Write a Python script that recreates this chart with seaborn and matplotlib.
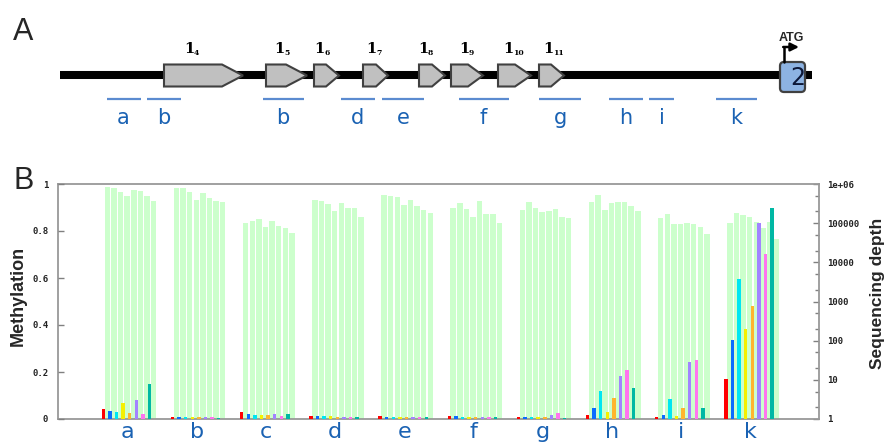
import numpy as np
import pandas as pd
import matplotlib
matplotlib.use('Agg')
import matplotlib.pyplot as plt
from matplotlib.patches import Polygon, FancyBboxPatch
from matplotlib.ticker import FixedLocator, FixedFormatter, LogLocator, NullFormatter
import seaborn as sns

# ---------------- data ----------------
groups = ['a', 'b', 'c', 'd', 'e', 'f', 'g', 'h', 'i', 'k']
samples = ['s1', 's2', 's3', 's4', 's5', 's6', 's7', 's8']
sample_colors = ['#ff0000', '#0a6cff', '#00e6f2', '#f5f000', '#ffb52e',
                 '#a284ff', '#ff74ee', '#00b8a4']

depth_a = [850000, 780000, 610000, 500000, 690000, 650000, 490000, 370000]
depth_b = [780000, 800000, 610000, 390000, 580000, 430000, 370000, 350000]
depth_c = [99000, 115000, 127000, 81000, 113000, 86000, 74000, 57000]
depth_d = [380000, 370000, 300000, 210000, 330000, 240000, 250000, 143000]
depth_e = [520000, 500000, 470000, 295000, 390000, 280000, 216000, 178000]
depth_f = [243000, 327000, 229000, 141000, 367000, 171000, 171000, 102000]
depth_g = [216000, 340000, 243000, 192000, 207000, 225000, 146000, 133000]
depth_h = [340000, 520000, 216000, 330000, 340000, 340000, 274000, 207000]
depth_i = [133000, 168000, 93000, 95000, 99000, 93000, 81000, 54000]
depth_k = [99000, 178000, 158000, 146000, 109000, 75000, 107000, 40000]

meth_a = [0.042, 0.036, 0.028, 0.067, 0.025, 0.079, 0.022, 0.150]
meth_b = [0.009, 0.007, 0.007, 0.007, 0.007, 0.007, 0.008, 0.005]
meth_c = [0.030, 0.020, 0.017, 0.017, 0.017, 0.020, 0.013, 0.020]
meth_d = [0.014, 0.014, 0.012, 0.012, 0.010, 0.010, 0.009, 0.008]
meth_e = [0.011, 0.010, 0.010, 0.010, 0.010, 0.010, 0.010, 0.008]
meth_f = [0.014, 0.014, 0.010, 0.010, 0.010, 0.010, 0.010, 0.010]
meth_g = [0.008, 0.007, 0.010, 0.007, 0.009, 0.018, 0.027, 0.005]
meth_h = [0.018, 0.047, 0.119, 0.028, 0.091, 0.182, 0.210, 0.132]
meth_i = [0.010, 0.016, 0.084, 0.011, 0.048, 0.241, 0.250, 0.048]
meth_k = [0.170, 0.338, 0.594, 0.385, 0.480, 0.835, 0.704, 0.899]

depth_lists = [depth_a, depth_b, depth_c, depth_d, depth_e,
               depth_f, depth_g, depth_h, depth_i, depth_k]
meth_lists = [meth_a, meth_b, meth_c, meth_d, meth_e,
              meth_f, meth_g, meth_h, meth_i, meth_k]

depth_ticks = [1, 10, 100, 1000, 10000, 100000, 1000000]
depth_ticklabels = ['1', '10', '100', '1000', '10000', '100000', '1e+06']
meth_ticks = [0, 0.2, 0.4, 0.6, 0.8, 1.0]
meth_ticklabels = ['0', '0.2', '0.4', '0.6', '0.8', '1']

# gene diagram (panel A), positions along the locus
exon_names = ['4', '5', '6', '7', '8', '9', '10', '11']
exon_start = [164, 266, 314, 363, 419, 451, 498, 539]
exon_end = [243, 307, 339, 388, 445, 483, 531, 564]
exon_tip = [21, 21, 13, 12, 13, 15, 16, 13]
exon_label_x = [193, 283, 323, 375, 427, 468, 512, 552]
amp_labels = ['a', 'b', 'b', 'd', 'e', 'f', 'g', 'h', 'i', 'k']
amp_start = [107, 147, 263, 341, 382, 459, 539, 609, 649, 716]
amp_end = [141, 181, 304, 375, 424, 509, 581, 643, 674, 757]
amp_label_x = [123, 164, 283, 357, 403, 483, 560, 626, 662, 736]
locus_start, locus_end = 60, 812
exon2_start, exon2_end = 780, 805

# ---------------- figure ----------------
sns.set_theme(style='white')
plt.rcParams['font.family'] = ['Liberation Sans', 'DejaVu Sans']

W, H = 888, 443
fig = plt.figure(figsize=(W / 100, H / 100), dpi=100)
fig.patch.set_facecolor('white')

# ---- Panel A ----
axA = fig.add_axes([0, 0, 1, 1])
axA.set_xlim(0, W)
axA.set_ylim(H, 0)
axA.axis('off')

yc, hh = 75.5, 11
axA.plot([locus_start, locus_end], [75, 75], color='black', lw=5.8,
         solid_capstyle='butt', zorder=1)
for name, s, e, t, lx in zip(exon_names, exon_start, exon_end, exon_tip, exon_label_x):
    pts = [(s, yc - hh), (e - t, yc - hh), (e, yc), (e - t, yc + hh), (s, yc + hh)]
    axA.add_patch(Polygon(pts, closed=True, facecolor='#c0c0c0',
                          edgecolor='#404040', lw=1.5, zorder=2))
    axA.text(lx + 1, 53, '1', fontsize=10.5, fontweight='bold',
             ha='right', va='baseline', color='black', family='DejaVu Serif')
    axA.text(lx + 1, 55, name, fontsize=5.5, fontweight='bold',
             ha='left', va='baseline', color='black', family='DejaVu Serif')

axA.add_patch(FancyBboxPatch((exon2_start, 62), exon2_end - exon2_start, 30,
                             boxstyle='round,pad=0,rounding_size=4',
                             facecolor='#8db3e2', edgecolor='#404040', lw=1.6, zorder=3))
axA.text((exon2_start + exon2_end) / 2 + 5, 78, '2', fontsize=17, ha='center',
         va='center', color='#0d1838', family='DejaVu Sans', zorder=4)
axA.plot([784, 784], [62, 47], color='black', lw=1.8, zorder=3)
axA.annotate('', xy=(799, 47), xytext=(783.2, 47),
             arrowprops=dict(arrowstyle='-|>,head_length=0.4,head_width=0.2',
                             color='black', lw=1.8, shrinkA=0, shrinkB=0))
axA.text(791, 41, 'ATG', fontsize=9, fontweight='bold', ha='center', va='baseline')

for lab, s, e, lx in zip(amp_labels, amp_start, amp_end, amp_label_x):
    axA.plot([s, e], [99, 99], color='#5b8bd0', lw=1.6, solid_capstyle='butt')
    axA.text(lx, 124, lab, fontsize=15, color='#1a62b3', ha='center',
             va='baseline', family='DejaVu Sans')

fig.text(13 / W, 1 - 40 / H, 'A', fontsize=22, ha='left', va='baseline')
fig.text(13 / W, 1 - 189 / H, 'B', fontsize=22, ha='left', va='baseline')

# ---- Panel B ----
left_px, right_px, top_px, bot_px = 58, 819, 184, 419
axD = fig.add_axes([left_px / W, 1 - bot_px / H, (right_px - left_px) / W,
                    (bot_px - top_px) / H])

bar_step = 0.0954
rows = []
for gi, g in enumerate(groups):
    for j, smp in enumerate(samples):
        x = gi + (j - 3.5) * bar_step
        rows.append(dict(group=g, sample=smp, xg=x, xc=x - 0.058,
                         depth=depth_lists[gi][j], meth=meth_lists[gi][j]))
df = pd.DataFrame(rows)

sns.barplot(data=df, x='xg', y='depth', color='#ccffcc', saturation=1,
            width=0.83, native_scale=True, errorbar=None, orient='x',
            linewidth=0, ax=axD)
axD.set_yscale('log')
axD.set_ylim(1, 1e6)

axM = axD.twinx()
sns.barplot(data=df, x='xc', y='meth', hue='sample', hue_order=samples,
            palette=sample_colors, saturation=1, width=0.52, native_scale=True,
            dodge=False, errorbar=None, orient='x', legend=False,
            linewidth=0, ax=axM)
axM.set_ylim(0, 1)

x_left = -(130.5 - left_px) / 69.2
x_right = 9 + (right_px - 753) / 69.2
axD.set_xlim(x_left, x_right)
axD.set_xticks([i - 0.04 for i in range(len(groups))])
axD.set_xticklabels(groups)
axD.tick_params(axis='x', length=0, pad=2, labelsize=16, labelcolor='#1a62b3')
for lbl in axD.get_xticklabels():
    lbl.set_fontfamily('DejaVu Sans')
axD.set_xlabel('')
axD.set_ylabel('')
axM.set_xlabel('')
axM.set_ylabel('')

# right (depth) axis
axD.yaxis.set_major_locator(FixedLocator(depth_ticks))
axD.yaxis.set_major_formatter(FixedFormatter(depth_ticklabels))
axD.yaxis.set_minor_locator(LogLocator(base=10, subs=[2, 5]))
axD.yaxis.set_minor_formatter(NullFormatter())
axD.tick_params(axis='y', which='both', left=False, labelleft=False,
                right=True, labelright=True, direction='in', color='#808080')
axD.tick_params(axis='y', which='major', length=4, width=1, pad=6, labelsize=6.5)
axD.tick_params(axis='y', which='minor', length=3, width=1)

# left (methylation) axis
axM.yaxis.set_major_locator(FixedLocator(meth_ticks))
axM.yaxis.set_major_formatter(FixedFormatter(meth_ticklabels))
axM.tick_params(axis='y', which='both', left=True, labelleft=True,
                right=False, labelright=False, direction='in', length=4,
                width=1, color='#808080', pad=7, labelsize=6.5)

for lbl in axD.get_yticklabels(which='major') + axM.get_yticklabels():
    lbl.set_fontfamily('DejaVu Sans Mono')
    lbl.set_fontweight('bold')
    lbl.set_color('#222222')

for sp in axD.spines.values():
    sp.set_visible(True)
    sp.set_color('#999999')
    sp.set_linewidth(1.3)
for sp in axM.spines.values():
    sp.set_visible(False)
axD.set_facecolor('white')

fig.text(18 / W, 1 - 296 / H, 'Methylation', rotation=90, fontsize=13,
         fontweight='bold', ha='center', va='center')
fig.text(877 / W, 1 - 293 / H, 'Sequencing depth', rotation=90, fontsize=12.5,
         fontweight='bold', ha='center', va='center')

fig.savefig('out.png', dpi=100, facecolor='white')
